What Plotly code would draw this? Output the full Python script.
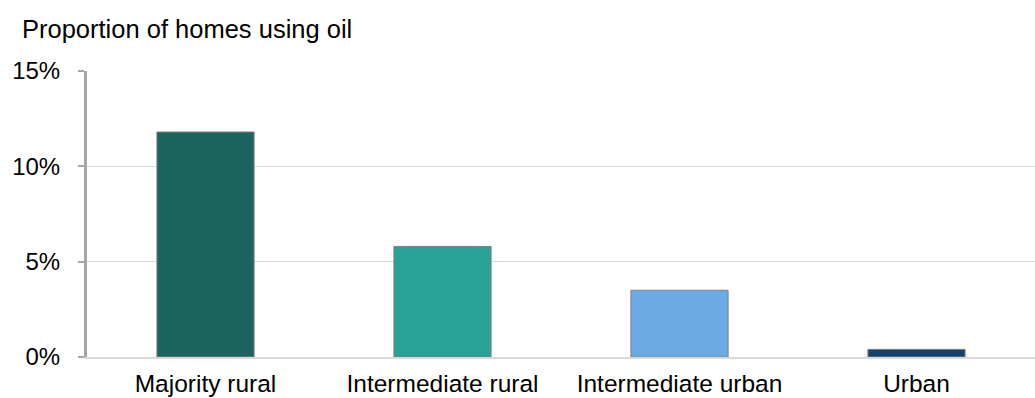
import plotly.graph_objects as go

categories = ["Majority rural", "Intermediate rural", "Intermediate urban", "Urban"]
values = [0.118, 0.058, 0.035, 0.004]
colors = ["#1c645f", "#28a197", "#6baae5", "#12436d"]
y_ticks = [0, 0.05, 0.10, 0.15]
y_tick_labels = ["0%", "5%", "10%", "15%"]

W, H = 1035, 398
L, R, T, B = 87, 0, 71, 41

fig = go.Figure(go.Bar(
    x=categories, y=values,
    marker=dict(color=colors, line=dict(color="#7f7f7f", width=1)),
    width=0.41,
))

fig.update_layout(
    width=W, height=H,
    margin=dict(l=L, r=R, t=T, b=B, pad=0, autoexpand=False),
    plot_bgcolor="white", paper_bgcolor="white",
    font=dict(family="Liberation Sans, Arial, sans-serif", size=25, color="#000000"),
    showlegend=False,
    title=dict(text="Proportion of homes using oil", xref="container", yref="container",
               x=22 / W, xanchor="left", y=1 - 29 / H, yanchor="middle",
               font=dict(size=25.5, color="#000000")),
    bargap=0.59,
)
fig.update_yaxes(
    range=[0, 0.15], tickvals=y_ticks, ticktext=y_tick_labels,
    showgrid=True, gridcolor="#d9d9d9", gridwidth=1,
    showline=True, linecolor="#a6a6a6", linewidth=3,
    ticks="outside", ticklen=6, tickcolor="#a6a6a6", tickwidth=2,
    ticklabelstandoff=13, zeroline=False, automargin=False,
    tickfont=dict(size=24),
)
fig.update_xaxes(
    showline=True, linecolor="#d9d9d9", linewidth=2,
    ticks="", ticklabelstandoff=4, automargin=False,
    tickfont=dict(size=24.5),
)
fig.write_html("out.html")
